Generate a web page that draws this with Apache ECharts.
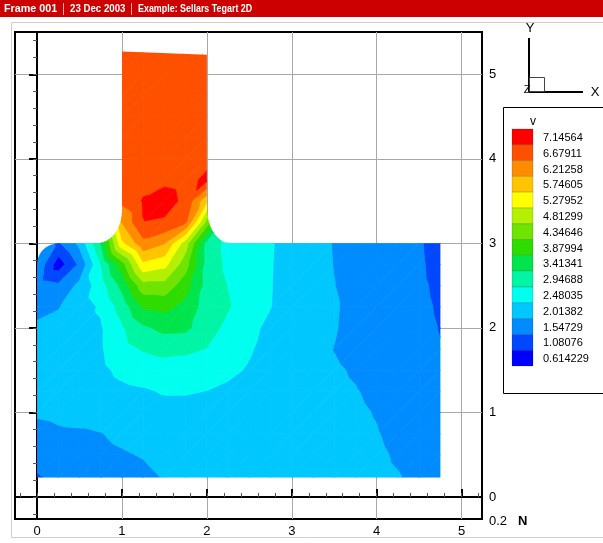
<!DOCTYPE html>
<html>
<head>
<meta charset="utf-8">
<title>Sellars Tegart 2D</title>
<script src="https://cdn.jsdelivr.net/npm/echarts@6/dist/echarts.min.js"></script>
<style>
  html, body { margin: 0; padding: 0; background: #fff; }
  #chart { width: 603px; height: 543px; }
</style>
</head>
<body>
<div id="chart"></div>
<script>
// mesh nodes (data units)
var xNodes = [0, 0.25, 0.5, 0.75, 1, 1.25, 1.5, 1.75, 2, 2.25, 2.5, 2.75, 3, 3.25, 3.5, 3.75, 4, 4.25, 4.5, 4.75];
var yNodes = [0.23, 0.5, 0.75, 1, 1.25, 1.5, 1.75, 2, 2.25, 2.5, 2.75, 3, 3.25, 3.5, 3.75, 4, 4.25, 4.5, 4.75, 5, 5.3];

// v at the nodes, one row per y node, top row first (null = no node)
var _ = null;
var vRows = [
  /* 5.3  */ [_, _, _, _, 6.68, 6.70, 6.72, 6.70, 6.66, _, _, _, _, _, _, _, _, _, _, _],
  /* 5.0  */ [_, _, _, _, 6.69, 6.71, 6.73, 6.71, 6.67, _, _, _, _, _, _, _, _, _, _, _],
  /* 4.75 */ [_, _, _, _, 6.70, 6.72, 6.74, 6.72, 6.68, _, _, _, _, _, _, _, _, _, _, _],
  /* 4.5  */ [_, _, _, _, 6.70, 6.73, 6.75, 6.73, 6.69, _, _, _, _, _, _, _, _, _, _, _],
  /* 4.25 */ [_, _, _, _, 6.69, 6.72, 6.76, 6.74, 6.72, _, _, _, _, _, _, _, _, _, _, _],
  /* 4.0  */ [_, _, _, _, 6.68, 6.72, 6.76, 6.75, 6.78, _, _, _, _, _, _, _, _, _, _, _],
  /* 3.75 */ [_, _, _, _, 6.70, 6.76, 6.82, 6.75, 7.02, _, _, _, _, _, _, _, _, _, _, _],
  /* 3.5  */ [_, _, _, 5.40, 6.55, 6.95, 7.10, 6.80, 5.60, 3.40, _, _, _, _, _, _, _, _, _, _],
  /* 3.25 */ [_, _, _, 4.60, 6.00, 6.90, 6.85, 6.50, 4.40, 2.70, 2.40, _, _, _, _, _, _, _, _, _],
  /* 3.0  */ [1.60, 1.25, 1.90, 3.20, 5.40, 6.30, 6.00, 4.80, 3.00, 2.55, 2.40, 2.30, 2.00, 1.92, 1.76, 1.60, 1.55, 1.50, 1.38, 1.05],
  /* 2.75 */ [1.70, 0.60, 1.40, 2.70, 3.90, 5.40, 5.20, 4.30, 3.00, 2.60, 2.40, 2.28, 2.00, 1.92, 1.77, 1.60, 1.55, 1.50, 1.40, 1.10],
  /* 2.5  */ [1.55, 1.40, 1.90, 2.50, 3.30, 4.40, 4.40, 3.85, 3.00, 2.70, 2.45, 2.27, 2.00, 1.93, 1.79, 1.60, 1.55, 1.50, 1.42, 1.18],
  /* 2.25 */ [1.65, 1.75, 2.05, 2.30, 2.90, 3.70, 3.80, 3.50, 2.95, 2.75, 2.45, 2.26, 2.00, 1.92, 1.84, 1.60, 1.55, 1.50, 1.45, 1.24],
  /* 2.0  */ [1.85, 1.95, 2.10, 2.20, 2.65, 3.10, 3.30, 3.28, 2.90, 2.60, 2.35, 2.15, 2.00, 1.92, 1.82, 1.60, 1.55, 1.50, 1.47, 1.29],
  /* 1.75 */ [1.95, 2.05, 2.10, 2.20, 2.55, 2.75, 2.85, 2.80, 2.70, 2.45, 2.30, 2.05, 2.00, 1.93, 1.77, 1.65, 1.58, 1.50, 1.48, 1.34],
  /* 1.5  */ [2.00, 2.05, 2.10, 2.15, 2.35, 2.45, 2.50, 2.50, 2.45, 2.35, 2.20, 2.00, 1.98, 1.93, 1.83, 1.74, 1.60, 1.52, 1.50, 1.40],
  /* 1.25 */ [1.95, 2.00, 2.05, 2.05, 2.15, 2.20, 2.28, 2.28, 2.24, 2.15, 2.10, 2.00, 1.98, 1.92, 1.86, 1.80, 1.70, 1.55, 1.52, 1.45],
  /* 1.0  */ [1.85, 1.90, 1.95, 1.95, 2.00, 2.05, 2.10, 2.10, 2.08, 2.05, 2.05, 2.00, 1.97, 1.92, 1.87, 1.84, 1.76, 1.60, 1.55, 1.50],
  /* 0.75 */ [1.60, 1.70, 1.72, 1.77, 1.85, 1.90, 1.95, 2.00, 2.00, 2.00, 2.00, 1.98, 1.95, 1.90, 1.87, 1.86, 1.80, 1.68, 1.60, 1.55],
  /* 0.5  */ [1.45, 1.55, 1.60, 1.70, 1.75, 1.80, 1.90, 1.95, 1.95, 1.95, 1.95, 1.95, 1.92, 1.88, 1.86, 1.85, 1.84, 1.74, 1.65, 1.60],
  /* 0.23 */ [1.28, 1.40, 1.50, 1.60, 1.65, 1.70, 1.80, 1.90, 1.90, 1.90, 1.90, 1.90, 1.90, 1.86, 1.85, 1.85, 1.86, 1.80, 1.70, 1.65]
];

// contour levels as shown in the legend (top to bottom)
var legendLevels = ['7.14564', '6.67911', '6.21258', '5.74605', '5.27952', '4.81299', '4.34646',
  '3.87994', '3.41341', '2.94688', '2.48035', '2.01382', '1.54729', '1.08076', '0.614229'];
var xTickValues = [0, 1, 2, 3, 4, 5];
var yTickValues = [0, 1, 2, 3, 4, 5];

// flood colours, same order as legendLevels
var levelColors = ['#ff0000', '#ff5000', '#ff8c00', '#ffc400', '#ffff00', '#b4f000', '#6ee400',
  '#2edc00', '#00e44c', '#00f5a5', '#00ffee', '#00c8ff', '#008cff', '#0048ff', '#0000ff'];

var FONT = '"Liberation Sans", Arial, Helvetica, sans-serif';

// levels / colours low -> high and the cuts between bands
var lv = legendLevels.map(parseFloat).reverse();
var cols = levelColors.slice().reverse();
var cuts = [];
for (var k = 0; k < lv.length - 1; k++) cuts.push((lv[k] + lv[k + 1]) / 2);

function bandOf(v) {
  var k = 0;
  while (k < cuts.length && v >= cuts[k]) k++;
  return k;
}

// keep the part of poly where sgn * (v - t) >= 0
function clipPoly(poly, t, sgn) {
  var out = [];
  for (var i = 0; i < poly.length; i++) {
    var a = poly[i], b = poly[(i + 1) % poly.length];
    var ina = sgn * (a[2] - t) >= 0, inb = sgn * (b[2] - t) >= 0;
    if (ina) out.push(a);
    if (ina !== inb) {
      var f = (t - a[2]) / (b[2] - a[2]);
      out.push([a[0] + f * (b[0] - a[0]), a[1] + f * (b[1] - a[1]), t]);
    }
  }
  return out;
}

function bandPolys(tri, out) {
  var vs = tri.map(function (p) { return p[2]; });
  var k0 = bandOf(Math.min.apply(null, vs)), k1 = bandOf(Math.max.apply(null, vs));
  for (var k = k0; k <= k1; k++) {
    var poly = tri;
    if (k > 0) poly = clipPoly(poly, cuts[k - 1], 1);
    if (k < cuts.length) poly = clipPoly(poly, cuts[k], -1);
    if (poly.length < 3) continue;
    out.push({
      type: 'polygon',
      shape: { points: poly.map(function (p) { return [p[0], p[1]]; }) },
      style: { fill: cols[k], stroke: cols[k], lineWidth: 0.8 }
    });
  }
}

// outline of the workpiece + punch (data units)
function arc(cx, cy, rx, ry, a0, a1, n) {
  var pts = [];
  for (var i = 0; i <= n; i++) {
    var a = (a0 + (a1 - a0) * i / n) * Math.PI / 180;
    pts.push([cx + rx * Math.cos(a), cy + ry * Math.sin(a)]);
  }
  return pts;
}
var domain = [[0, 0.23], [4.75, 0.23], [4.75, 3.0]]
  .concat(arc(2.28, 3.42, 0.28, 0.42, -90, -180, 12))
  .concat([[2.0, 5.23], [1.0, 5.27]])
  .concat(arc(0.7, 3.38, 0.3, 0.38, 0, -90, 12))
  .concat(arc(0.25, 2.75, 0.25, 0.25, 90, 180, 10));

// cells of the mesh
var cells = [];
var vAt = function (i, j) { return vRows[vRows.length - 1 - j][i]; };
for (var j = 0; j < yNodes.length - 1; j++) {
  for (var i = 0; i < xNodes.length - 1; i++) {
    var a = vAt(i, j), b = vAt(i + 1, j), c = vAt(i, j + 1), d = vAt(i + 1, j + 1);
    if (a == null || b == null || c == null || d == null) continue;
    cells.push([xNodes[i], xNodes[i + 1], yNodes[j], yNodes[j + 1], a, b, c, d]);
  }
}

function renderCell(params, api) {
  var x0 = api.value(0), x1 = api.value(1), y0 = api.value(2), y1 = api.value(3);
  var p00 = api.coord([x0, y0]), p10 = api.coord([x1, y0]);
  var p01 = api.coord([x0, y1]), p11 = api.coord([x1, y1]);
  var A = [p00[0], p00[1], api.value(4)], B = [p10[0], p10[1], api.value(5)];
  var C = [p01[0], p01[1], api.value(6)], D = [p11[0], p11[1], api.value(7)];
  var children = [];
  bandPolys([A, B, D], children);
  bandPolys([A, D, C], children);
  return {
    type: 'group',
    children: children,
    clipPath: { type: 'polygon', shape: { points: domain.map(function (p) { return api.coord(p); }) } }
  };
}

var minorX = [], minorY = [];
for (var t = -0.2; t < 5.3; t += 0.2) minorX.push(+t.toFixed(1));
for (var t2 = -0.2; t2 < 5.5; t2 += 0.2) minorY.push(+t2.toFixed(1));

function titleText(x, str, sx) {
  return { type: 'text', x: x, y: 9, scaleX: sx,
    style: { text: str, fill: '#fff', font: 'bold 11px ' + FONT, textVerticalAlign: 'middle' } };
}

// legend + decorations
var graphics = [
  { type: 'rect', shape: { x: 0, y: 0, width: 603, height: 17 }, style: { fill: '#cc0000' } },
  titleText(4, 'Frame 001', 0.98),
  { type: 'line', shape: { x1: 63.5, y1: 3, x2: 63.5, y2: 15 }, style: { stroke: '#f2b0b0', lineWidth: 1 } },
  titleText(70, '23 Dec 2003', 0.88),
  { type: 'line', shape: { x1: 131.5, y1: 3, x2: 131.5, y2: 15 }, style: { stroke: '#f2b0b0', lineWidth: 1 } },
  titleText(138, 'Example: Sellars Tegart 2D', 0.81),
  { type: 'rect', shape: { x: 11.5, y: 22.5, width: 620, height: 515 }, style: { fill: 'none', stroke: '#cfcfcf', lineWidth: 1 } },
  // axis triad
  { type: 'line', shape: { x1: 529, y1: 38, x2: 529, y2: 92 }, style: { stroke: '#000', lineWidth: 2 } },
  { type: 'line', shape: { x1: 529, y1: 92, x2: 583, y2: 92 }, style: { stroke: '#000', lineWidth: 2 } },
  { type: 'rect', shape: { x: 529.5, y: 77.5, width: 15, height: 14 }, style: { fill: 'none', stroke: '#444', lineWidth: 1 } },
  { type: 'text', x: 530, y: 28, style: { text: 'Y', fill: '#000', font: '13px ' + FONT, textAlign: 'center', textVerticalAlign: 'middle' } },
  { type: 'text', x: 595, y: 92, style: { text: 'X', fill: '#000', font: '13px ' + FONT, textAlign: 'center', textVerticalAlign: 'middle' } },
  { type: 'text', x: 527, y: 90, style: { text: 'Z', fill: '#000', font: '11px ' + FONT, textAlign: 'center', textVerticalAlign: 'middle' } },
  // stray labels bottom right
  { type: 'text', x: 489, y: 521, style: { text: '0.2', fill: '#000', font: '13px ' + FONT, textVerticalAlign: 'middle' } },
  { type: 'text', x: 518, y: 521, style: { text: 'N', fill: '#000', font: 'bold 13px ' + FONT, textVerticalAlign: 'middle' } },
  // legend box
  { type: 'rect', shape: { x: 503.5, y: 107.5, width: 110, height: 286 }, style: { fill: '#fff', stroke: '#000', lineWidth: 1 } },
  { type: 'text', x: 533, y: 122, style: { text: 'v', fill: '#000', font: '12px ' + FONT, textAlign: 'center', textVerticalAlign: 'middle' } }
];
legendLevels.forEach(function (lab, idx) {
  var top = 129 + idx * 15.8;
  graphics.push({ type: 'rect', shape: { x: 512, y: top, width: 21, height: 15.8 },
    style: { fill: levelColors[idx], stroke: 'rgba(0,0,0,0.25)', lineWidth: 0.6 } });
  graphics.push({ type: 'text', x: 543, y: top + 9, style: { text: lab, fill: '#000', font: '11px ' + FONT, textVerticalAlign: 'middle' } });
});

var chart = echarts.init(document.getElementById('chart'));
chart.setOption({
  animation: false,
  backgroundColor: '#fff',
  grid: { left: 15, right: 121, top: 32, bottom: 24, show: true, borderColor: '#000', borderWidth: 2 },
  xAxis: [{
    type: 'value', min: -0.26, max: 5.24, position: 'bottom',
    axisLine: { lineStyle: { color: '#000', width: 2 } },
    axisTick: { inside: true, length: 8, customValues: xTickValues, lineStyle: { color: '#000', width: 2 } },
    axisLabel: { customValues: xTickValues, color: '#000', fontSize: 13, fontFamily: FONT, margin: 6 },
    splitLine: { show: true, lineStyle: { color: '#a8a8a8', width: 1 } }
  }, {
    type: 'value', min: -0.26, max: 5.24, position: 'bottom',
    axisLine: { show: false },
    axisTick: { inside: true, length: 4, customValues: minorX, lineStyle: { color: '#555', width: 1 } },
    axisLabel: { show: false }, splitLine: { show: false }
  }],
  yAxis: [{
    type: 'value', min: -0.26, max: 5.5, position: 'right',
    axisLine: { lineStyle: { color: '#000', width: 2 } },
    axisTick: { inside: true, length: 8, customValues: yTickValues, lineStyle: { color: '#000', width: 2 } },
    axisLabel: { customValues: yTickValues, color: '#000', fontSize: 13, fontFamily: FONT, margin: 7 },
    splitLine: { show: true, lineStyle: { color: '#a8a8a8', width: 1 } }
  }, {
    type: 'value', min: -0.26, max: 5.5, position: 'right',
    axisLine: { show: false },
    axisTick: { inside: true, length: 4, customValues: minorY, lineStyle: { color: '#555', width: 1 } },
    axisLabel: { show: false }, splitLine: { show: false }
  }],
  series: [{
    type: 'custom',
    silent: true,
    renderItem: renderCell,
    encode: { x: [0, 1], y: [2, 3] },
    data: cells
  }],
  graphic: graphics
});
</script>
</body>
</html>
